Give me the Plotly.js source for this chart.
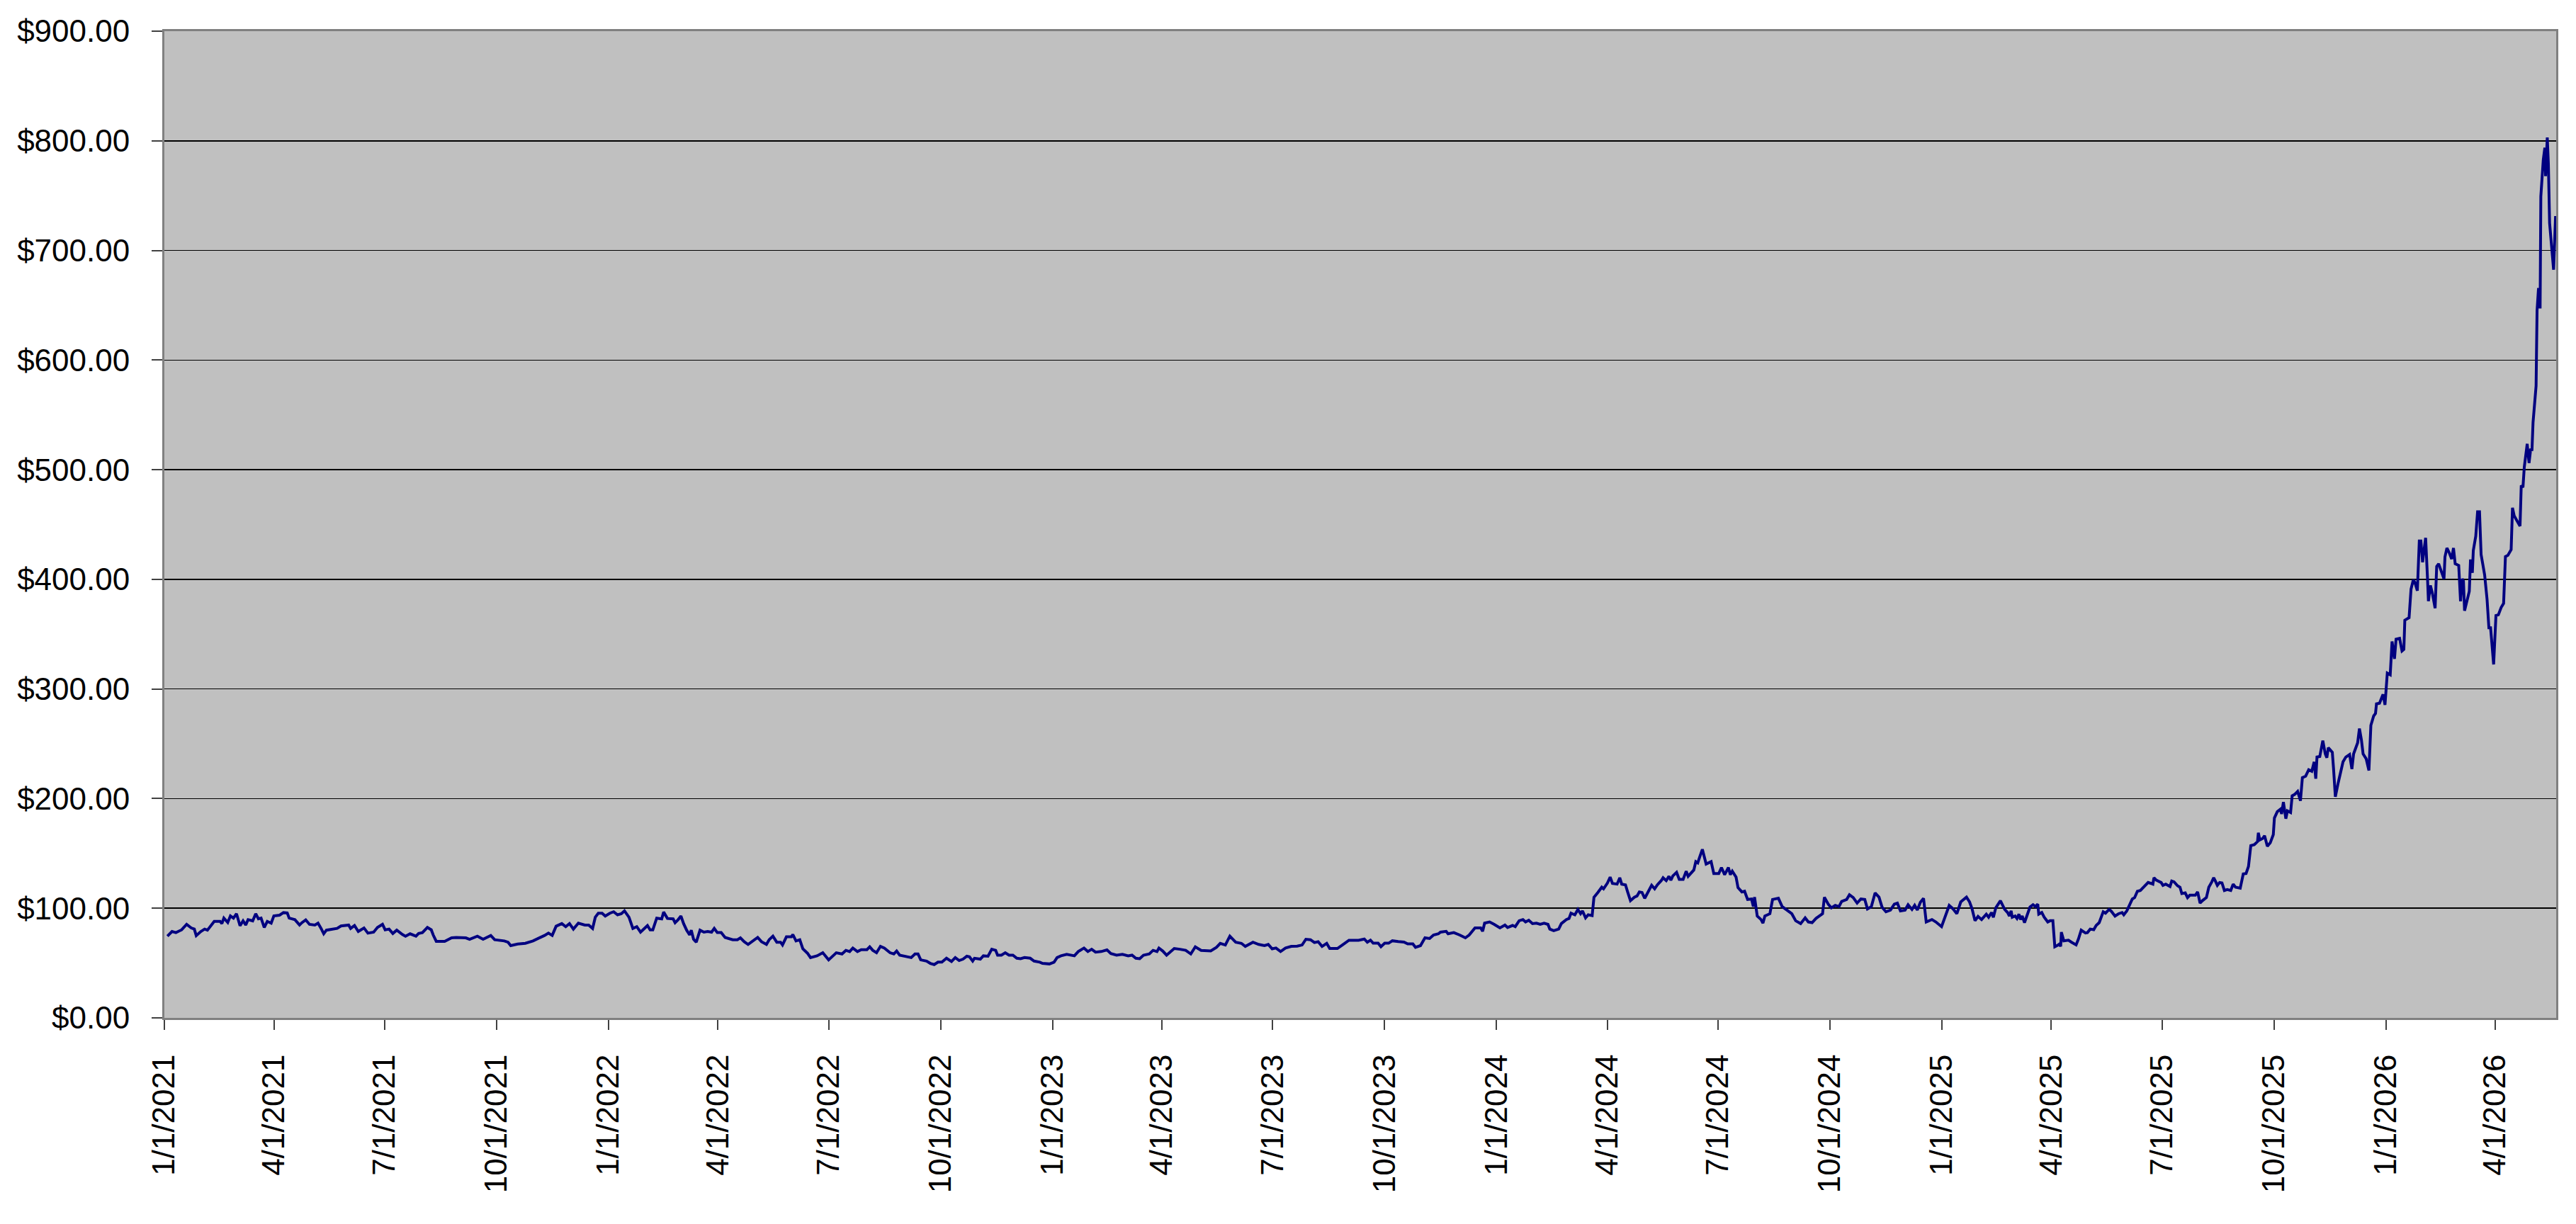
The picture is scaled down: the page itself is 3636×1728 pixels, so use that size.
<!DOCTYPE html>
<html>
<head>
<meta charset="utf-8">
<script src="https://cdn.plot.ly/plotly-3.0.1.min.js"></script>
<style>
  html, body { margin: 0; padding: 0; background: #ffffff; }
  #price_chart { width: 3636px; height: 1728px; }
</style>
</head>
<body>
<div id="price_chart"></div>
<script>
var startDate = Date.UTC(2021, 0, 1);

var dayOffsets = [
  2.5, 6.3, 9.5, 14.2, 18.3, 22.1, 24.6, 26.2, 30, 33.1, 35.4, 38.5, 41, 45.8, 47.3, 48.9,
  52.1, 54.3, 56.8, 59.3, 62.2, 64.7, 66.9, 68.8, 72.6, 75.1, 77.3, 79.5, 82.1, 84.6, 87.8,
  90, 94.7, 97.9, 101, 102.6, 107.3, 111.1, 113, 116.2, 119.3, 123.7, 126.3, 128.8, 131,
  133.2, 138.9, 142, 145.2, 151.5, 153.1, 156.3, 159.4, 164.1, 167.3, 172, 175.2, 179.3,
  181.5, 184.7, 187.8, 191, 195.7, 198.2, 202, 206.8, 209, 212.1, 216.2, 219.4, 221, 223.5,
  230.4, 236.1, 239.9, 247.8, 250.9, 257.3, 262, 268.3, 271.5, 279.4, 282.5, 284.7, 290.4,
  296.7, 303, 307.8, 312.5, 315.7, 318.8, 322, 326.7, 329.9, 333, 336.2, 340.3, 345.6,
  348.8, 352, 354.2, 356.7, 359.8, 362.4, 366.2, 369.3, 372.5, 375.6, 378.2, 381.9, 385.1,
  388.3, 391.4, 394.6, 397.1, 399.3, 401.5, 404.7, 408.8, 410.4, 413.5, 418.2, 419.8,
  422.3, 424.6, 426.8, 429.3, 431.8, 433.1, 435, 437.2, 440.3, 443.5, 446.6, 449.8, 452,
  454.5, 457.7, 460.9, 467.2, 471, 473.5, 476.6, 479.8, 483, 487.7, 490.8, 494.9,
  497.1, 500.2, 503.4, 506.5, 508.1, 511.3, 515.4, 516.6, 519.2, 522.3, 524.8, 528.6,
  531.1, 536.5, 541.2, 546, 552.3, 557, 560.2, 563.3, 565.9, 569.7, 572.8, 577.5, 579.8,
  582.3, 585.4, 588.6, 591.8, 596.5, 599.6, 601.9, 604.4, 609.1, 613.9, 617, 619.5, 621.7,
  626.5, 629.6, 632.8, 635.9, 639.1, 642.9, 647, 650.1, 653.3, 656.5, 659.6, 661.8, 664.4,
  665.9, 670.7, 673.2, 677, 680.1, 683.3, 684.9, 688, 691.2, 694.3, 697.5, 700.7, 703.8,
  707, 711.7, 714.9, 719.6, 721.8, 727.5, 731.3, 733.8, 737, 741.7, 748, 751.2, 755.9,
  759.1, 762.2, 765.4, 770.1, 774.8, 778, 782.7, 787.5, 792.2, 795.4, 798.5, 801.7, 804.8,
  809.6, 812.7, 815.9, 817.5, 820.6, 823.8, 826.9, 830.1, 834.8, 839.5, 843.7, 847.4,
  852.2, 860.1, 864.8, 867.9, 872.1, 875.8, 880.6, 885.3, 888.5, 894.8, 899.5, 904.3,
  907.4, 910.6, 913.7, 917.5, 921.6, 926.3, 931.1, 935.2, 938.3, 942.1, 945.3, 948.4,
  951.6, 955.4, 957.9, 964.2, 968.9, 973.7, 981.6, 986.3, 988.8,
  991.4, 993.6, 997.7, 1000, 1003.1, 1006.3, 1009.4, 1014.2, 1018.9, 1022, 1026.2, 1028.4,
  1032.5, 1036.2, 1040, 1043.2, 1047.3, 1048.9, 1053.6, 1055.2, 1059.9, 1064.7, 1069.4,
  1072.5, 1077.3, 1082, 1083.6, 1085.2, 1089.3, 1093.1, 1097.8, 1101.9, 1104.1, 1108.2,
  1110.4, 1113.6, 1116.7, 1118.9, 1121.5, 1124.6, 1127.8, 1130.9, 1134.1, 1137.3, 1138.8,
  1142, 1146.1, 1148.3, 1152.4, 1154.6, 1156.2, 1159.4, 1161.9, 1164.1, 1165.7, 1168.2,
  1170.4, 1173.6, 1175.1, 1178.3, 1181.5, 1183, 1186.2, 1188.4, 1190.3, 1194.1, 1196.3,
  1197.9, 1201, 1202.9, 1205.1, 1208.3, 1210.5, 1212.4, 1214.6, 1216.8, 1219.3, 1222.5,
  1225, 1227.2, 1230.4, 1231.9, 1234.5, 1236.7, 1238.3, 1239.9, 1243, 1245.2, 1248.4,
  1250.9, 1252.5, 1257.2, 1258.8, 1260.4, 1262, 1264.2, 1267.3, 1271.4, 1273.6, 1277.7,
  1279.9, 1282.5, 1285.6, 1287.2, 1288.8, 1291.9, 1293.5, 1296.7, 1298.9, 1301.4, 1304.6,
  1306.1, 1307.1, 1309.3, 1312.4, 1314, 1315.6, 1319.7, 1321.9, 1326.7, 1329.8, 1334.5,
  1337.7, 1340.9, 1345, 1348.7, 1351.3, 1354.4, 1357.6, 1363, 1364.5, 1367.7, 1370.2,
  1373.4, 1376.5, 1378.7, 1382.8, 1385.1, 1388.2, 1391.4, 1394.5, 1397.7, 1399.9, 1403.1,
  1406.2, 1409.4, 1411.9, 1415.1, 1418.8, 1422, 1424.5, 1427, 1430.8, 1433.3, 1436.5,
  1438.7, 1440.9, 1443.4, 1446, 1448.2, 1452.9, 1456.1, 1460.8, 1467.1, 1470.3, 1473.4,
  1476.6, 1481.3, 1483.8,
  1485.9, 1488.3, 1490.8, 1493.7, 1497.6, 1499.5, 1501.9, 1503.4, 1505.4, 1509.2, 1512.7,
  1515.1, 1516.6, 1518, 1518.9, 1521.3, 1522.8, 1524.4, 1525.7, 1527.1, 1529, 1531.6,
  1533.5, 1536, 1538, 1539.9, 1540.7, 1543.2, 1545.2, 1548.1, 1550, 1552.3, 1553.9, 1556.2,
  1557.8, 1558.7, 1559.3, 1561.3, 1565.1, 1567.9, 1571.4, 1573.3, 1575.6, 1579.1, 1580.7,
  1583, 1585.9, 1587.9, 1590.4, 1593.7, 1595.6, 1598.5, 1600.1, 1603.4, 1606.3, 1609.2,
  1610.6, 1613.1, 1615, 1617.6, 1619.5, 1621.8, 1624.2, 1626.7, 1630.6, 1633.1, 1634.5,
  1635.4, 1637.4, 1641.3, 1642.8, 1645.1, 1648.6, 1650, 1651.9, 1654.8, 1656.8, 1658.3,
  1661.1, 1663, 1664.9, 1669.4, 1671.3, 1673.3, 1675.2, 1678.5, 1680.5, 1683, 1684.5,
  1685.9, 1687.5, 1689.4, 1691.3, 1693.3, 1695.6, 1698.5, 1700.5, 1702.4, 1706.3, 1708.8,
  1711.1, 1713.1, 1715, 1717.9, 1720.5, 1721.2, 1722.4, 1724.7, 1726.3, 1728.6, 1731,
  1733.5, 1734.4, 1736.8, 1739.3, 1740.3, 1741.8, 1743.8, 1745.1,
  1747.7, 1749, 1751, 1753.5, 1755.8, 1757.4, 1760.1, 1762.6, 1765.1, 1767.1, 1768.4,
  1769.4, 1771.7, 1774.2, 1776.2, 1777.5, 1778.7, 1780.7, 1782, 1783, 1784.5, 1786.9,
  1788.8, 1790.8, 1793.1, 1796.2, 1798.1, 1799.5, 1802.8, 1804.3, 1805.9, 1807.3, 1809.8,
  1812.1, 1813.7, 1816, 1817.5, 1818.3, 1820.8, 1823.7, 1825.3, 1827.2, 1829.6, 1831.1,
  1833.1, 1834.4, 1837.3, 1839.3, 1840.8, 1841.6, 1845.1, 1846.7, 1848.6, 1850, 1851.9,
  1853.5, 1854.8, 1856.2, 1857.3, 1858.7, 1860.3, 1861, 1862.6, 1864.1, 1866.5, 1867.8,
  1869.4, 1871.9, 1873.8, 1874.6, 1876.2, 1878.1, 1880.1, 1881.6, 1883, 1885.9,
  1887.4, 1888.8, 1889.8, 1890.7, 1892.7, 1894.6, 1895.6, 1897.1, 1897.9, 1899.9, 1901.4,
  1903, 1904.3, 1907.2, 1909.2, 1910.7, 1912.1, 1914.6, 1916.5, 1918.5, 1920.8, 1922.8,
  1924.3, 1926.3, 1929, 1930.1, 1931.5, 1934.4, 1936.3, 1937.3, 1938.7, 1939.8, 1942.2,
  1943.7, 1945.1, 1946.1, 1947, 1949.5, 1950.3, 1951.5, 1952.8, 1953.4, 1955.4, 1956.7,
  1957.3, 1958.7, 1959.6, 1960.6, 1962.6, 1963.9, 1965.5
];

var prices = [
  74.5, 78.8, 77.8, 80.3, 85.3, 82, 81, 75, 78.8, 81, 80, 84, 88, 88, 86, 91,
  87, 93, 91, 95, 84, 88.5, 84.7, 89.6, 88.5, 95, 90.3, 91, 82.5, 88, 86.4,
  93, 93.7, 96, 95.7, 91, 89.6, 84.7, 86.8, 89.4, 85.3, 84.7, 86.4, 81.6, 76.7,
  80, 81, 81.6, 83.8, 84.7, 81.6, 84.2, 78.8, 82, 77.3, 78.2, 82.5, 85.3,
  80.3, 81, 77, 80, 76, 74.5, 76.7, 74.5, 77, 77.8, 82.5, 80.3, 75.6, 69.8,
  69.8, 73, 73.4, 73, 71.7, 74.5, 71.7, 75.2, 71.3, 70.2, 69, 65.9, 67.4,
  68, 70.2, 72.4, 75.2, 77.3, 75.2, 83.6, 86, 83.2, 86, 81, 86.4, 84.7,
  84.7, 81.6, 91.8, 95.5, 95.5, 92.9, 95.5, 96.8, 94, 95, 97.6, 91.8, 81.6,
  83.2, 78.2, 81.6, 84.2, 80.3, 80.3, 91, 90.3, 96.5, 90.7, 90.3, 86.8,
  89.6, 92.9, 86, 80, 75.6, 80, 71.7, 69, 80, 78.2, 78.8, 78.2, 81.6,
  77.8, 77.8, 73.4, 71.3, 71.3, 73, 69.5, 67, 69.5, 73.4, 69.5, 67,
  71.3, 74.5, 69, 69, 66.5, 73.9, 73.9, 76, 70.2, 71.3, 63, 59,
  55, 56.6, 59.4, 52.9, 59.4, 58.3, 61.6, 60.5, 63.7, 60.5, 62.2, 62.2, 64.8,
  61.6, 59.4, 65.2, 63.7, 59.4, 58.3, 61, 57.2, 56.2, 55, 58.3, 58.3, 52.9,
  51.8, 49.7, 48.6, 50.8, 50.8, 54.4, 51.4, 55, 52.3, 53.6, 56.2, 55.7, 51.8,
  54.4, 53.6, 56.6, 56.2, 62.6, 61.6, 57.2, 57.2, 59.4, 57.2, 57.2, 54.4, 54,
  55, 54.4, 51.8, 50.8, 49.7, 49.2, 50.8, 55, 56.6, 57.9, 56.6, 60.5, 63.7,
  60.5, 62.6, 60, 60.5, 62, 58.7, 57.2, 57.9, 56.6, 57.2, 54.4, 54, 57.2,
  58.3, 61.6, 60.5, 63.7, 61, 57.2, 60.5, 63.3, 62.6, 61.6, 58.3, 64.8,
  61.6, 61.1, 64.4, 68, 66.5, 74.5, 69, 68, 65.2, 69, 67, 65.9,
  67, 63, 63.7, 60.5, 63.7, 65.2, 65.4, 66.5, 71.7, 71.3, 68.7, 69.5,
  65.2, 68, 63.3, 63.3, 67, 70.8, 70.8, 71.9, 69,
  70.9, 68.1, 68.1, 64.9, 68.1, 68.1, 70.3, 69.6, 69.2, 67.5, 67.5, 64.4,
  65.9, 73, 72.4, 75.6, 76.7, 78.2, 78.9, 76.7, 77.8, 75.6, 73,
  75.6, 82.1, 82.1, 78.9, 86.4, 87.5, 85.3, 82.1, 84.7, 82.5, 84.3,
  83.2, 88.6, 89.7, 87.5, 89, 86, 86.4, 85.3, 86.4, 85.3, 81,
  79.5, 81, 86, 89.7, 90.7, 95.5, 94, 98.9, 95, 97.6, 91.2,
  94, 93.3, 110, 114.4, 119.2, 117.7, 123, 128.4, 122.6, 122, 127.8,
  122, 121.3, 114.4, 106.9, 110, 111.2, 114.9, 114.4, 109, 114.4, 120.9,
  117.7, 121.3, 125.2, 127.8, 125.2, 129.1, 125.6, 129.5, 132.8, 126.3, 126.3,
  133.8, 129.1, 134.9, 142.5, 141.4, 146.8, 153.7, 140.3, 142.5, 131.7, 131.7,
  137.1, 130.6, 137.1, 130.6, 133.8, 128.4, 118.8, 114.9, 115.5, 108, 108.4,
  101.5, 110.1, 92.9, 89.7, 86.4, 92.9, 95, 108, 109.1, 101.5, 97.2,
  95, 88.6, 86, 91.2, 87.5, 86.9, 90.7, 95, 110, 103.7, 100.4,
  102.6, 101.5, 106.2, 108, 112.3, 109.7, 104.7, 108.4, 108, 99.4, 101.5,
  114, 110.1, 101, 96.8, 98.3, 103.7, 104.7, 97.6, 98.3, 103.2, 98.9,
  102.6, 98.3, 105.4, 109.1, 87.5, 89.7, 87.5, 83.2, 102.6, 99.4, 95,
  105.8, 110.1, 105.8,
  99.4, 88.6, 92.5, 89.7, 94.6, 91.8, 96.1, 91.8, 100.4, 106.9, 98.9,
  96.1, 92.9, 97.6, 91.8, 92.9, 90.7, 94.6, 89.7, 92.9, 86.9, 95.5,
  101.1, 103.2, 101.5, 103.7, 94.6, 96.1, 91.8, 87.5, 88.6, 88.6, 64.9, 66.2,
  67.5, 65.1, 78.2, 70.3, 70.9, 68.8, 66.6, 71.8, 80, 77.4, 77.8,
  81, 80.4, 84.3, 86.9, 96.8, 95.5, 98.9, 97.6, 92.9, 95, 96.1,
  94, 97.6, 102.6, 108.4, 109.7, 115.5, 116.2, 119.2, 123.5, 122.6, 122,
  127.8, 125.6, 123.5, 120.9, 122, 119.8, 124.8, 124.1, 120.5, 119.2, 113.4,
  114, 109.7, 111.9, 111.9, 114.9, 104.7, 106.9, 109.7, 119.2, 124.1, 127.8,
  124.8, 120.9, 123.5, 123.1, 116.2, 117, 116.2, 122, 119.2, 118.3, 131.3,
  131.7, 138.1, 157.1, 158, 160.8, 168.8, 162.3, 163.6, 166.2, 156.5, 159.7,
  167.2, 182.3, 188.1, 190.3, 186, 196.8, 181.7, 188.8,
  187.3, 202.6, 203.8, 206.6, 198, 219.1, 220.5, 226.3, 224.9, 233.5, 218.2,
  237.9, 238.4, 252.9, 240.8, 237.3, 246.5, 244.2, 242.2, 227.7, 201.7, 214.7,
  223.4, 233.5, 237.9, 240.2, 226.9, 240.8, 250.9, 263.9, 253.8, 240.8, 236.4,
  225.7, 266.8, 275.4, 277.7, 286.4, 287, 295.1, 285.5, 314.5, 313, 343.4,
  327.5, 345.4, 346.2, 334.7, 336.1, 362.7, 365, 391, 399.7, 396.8, 389.6,
  435, 435, 415.6, 425.7, 437.9, 399.7, 380.1, 394.5, 388.2, 373.7, 411.8,
  414.2, 406.9, 400.3, 420.5, 428.6, 424.3, 418.5, 428.6, 414.2, 412.7,
  380, 400.4, 398.5, 371.4, 380, 389.2, 418.2, 405.9, 426.3, 439.3, 461.6,
  461.6, 422.6, 404.1, 381.8, 355.8, 355.8, 322.4, 367, 367.7, 374.4, 378.1,
  420.8, 421.9, 427.1, 465.3, 457.9, 452.3, 448.6, 485.7, 483.9, 502.4, 523.6,
  506.1, 519.1, 517.3, 543.2, 576.6, 645.3, 665.7, 647.1, 749.2, 782.6, 793.7,
  767.7, 803, 778.8, 725, 700.9, 682.4, 731.4
];

var tickDates = [
  '2021-01-01', '2021-04-01', '2021-07-01', '2021-10-01',
  '2022-01-01', '2022-04-01', '2022-07-01', '2022-10-01',
  '2023-01-01', '2023-04-01', '2023-07-01', '2023-10-01',
  '2024-01-01', '2024-04-01', '2024-07-01', '2024-10-01',
  '2025-01-01', '2025-04-01', '2025-07-01', '2025-10-01',
  '2026-01-01', '2026-04-01'
];
var tickLabels = [
  '1/1/2021', '4/1/2021', '7/1/2021', '10/1/2021',
  '1/1/2022', '4/1/2022', '7/1/2022', '10/1/2022',
  '1/1/2023', '4/1/2023', '7/1/2023', '10/1/2023',
  '1/1/2024', '4/1/2024', '7/1/2024', '10/1/2024',
  '1/1/2025', '4/1/2025', '7/1/2025', '10/1/2025',
  '1/1/2026', '4/1/2026'
];

function drawPriceChart() {
  var x = [];
  for (var i in dayOffsets) {
    x.push(startDate + dayOffsets[i] * 86400000);
  }

  var data = [{
    x: x, y: prices, type: 'scatter', mode: 'lines',
    line: { color: '#000080', width: 4 },
    hoverinfo: 'skip'
  }];

  var font = { family: '"Liberation Sans", Arial, sans-serif', size: 44, color: '#000000' };

  var layout = {
    width: 3636, height: 1728,
    margin: { l: 232, r: 28, t: 44, b: 291, pad: 0 },
    paper_bgcolor: '#ffffff',
    plot_bgcolor: '#c0c0c0',
    showlegend: false,
    font: font,
    xaxis: {
      type: 'date',
      range: ['2021-01-01', '2026-05-21'],
      tickmode: 'array', tickvals: tickDates, ticktext: tickLabels,
      tickangle: -90, tickfont: font,
      ticks: 'outside', ticklen: 14, tickwidth: 2, tickcolor: '#404040',
      ticklabelstandoff: 17,
      showgrid: false, zeroline: false,
      showline: true, linecolor: '#808080', linewidth: 3, mirror: true,
      automargin: false, fixedrange: true
    },
    yaxis: {
      range: [0, 900], tick0: 0, dtick: 100,
      tickprefix: '$', tickformat: ',.2f', tickfont: font,
      ticks: 'outside', ticklen: 15, tickwidth: 2, tickcolor: '#404040',
      ticklabelstandoff: 22,
      showgrid: true, gridcolor: '#000000', gridwidth: 1.5,
      zeroline: false,
      showline: true, linecolor: '#808080', linewidth: 3, mirror: true,
      automargin: false, fixedrange: true
    }
  };

  Plotly.newPlot('price_chart', data, layout, { displayModeBar: false, staticPlot: true });
}

drawPriceChart();
</script>
</body>
</html>
